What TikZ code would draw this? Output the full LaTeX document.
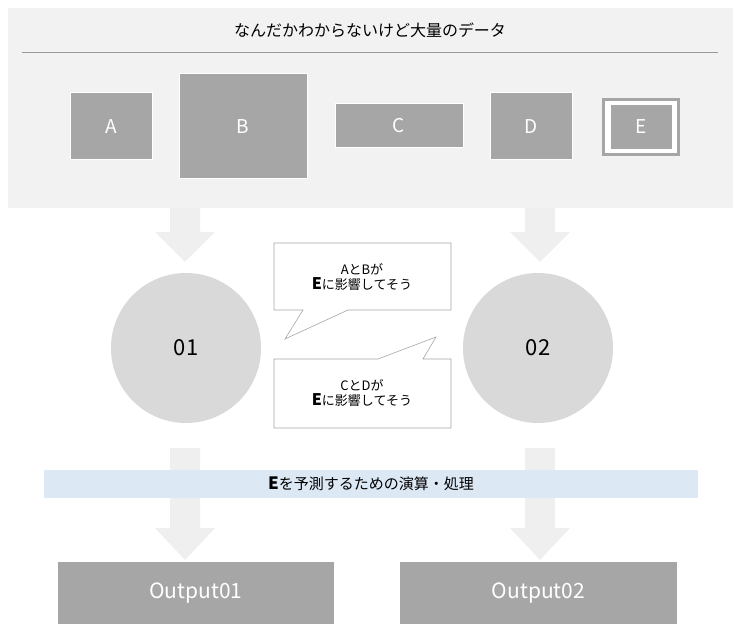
\documentclass[tikz,border=0pt]{standalone}
\usepackage{fontspec}
\setmainfont{Noto Sans CJK JP}
\definecolor{panel}{HTML}{F2F2F2}
\definecolor{boxgray}{HTML}{A6A6A6}
\definecolor{circgray}{HTML}{D9D9D9}
\definecolor{arrgray}{HTML}{EFEFEF}
\definecolor{band}{HTML}{DDE8F5}
\newcommand{\fs}[1]{\fontsize{#1}{#1}\selectfont}
% block arrow: x centre, top y, head start y, tip y
\newcommand{\blockarrow}[4]{\fill[arrgray] (#1-15,#2) -- (#1+15,#2) -- (#1+15,#3) -- (#1+30,#3) -- (#1,#4) -- (#1-30,#3) -- (#1-15,#3) -- cycle;}
\tikzset{
  item/.style={draw=white, line width=1pt, fill=boxgray, text=white, font=\fs{19}},
  stage/.style={circle, fill=circgray, minimum size=150pt, font=\fs{22}},
  output/.style={rectangle, fill=boxgray, text=white, font=\fs{21}, minimum height=62pt},
  callout/.style={draw=gray!70, fill=white, line width=0.6pt}
}
\begin{document}
\begin{tikzpicture}[x=1pt, y=-1pt]
\useasboundingbox (0,0) rectangle (740,639);

% data panel
\fill[panel] (8,8) rectangle (733,208);
\node (title) [font=\fs{16}] at (370,30) {なんだかわからないけど大量のデータ};
\draw[gray!80, line width=0.6pt] (22,52) -- (718,52);

\node (a) [item, minimum width=82pt, minimum height=67pt] at (111,126.5) {A};
\node (b) [item, minimum width=128pt, minimum height=105pt] at (243,126.5) {B};
\node (c) [item, minimum width=128pt, minimum height=44pt] at (399,126) {C};
\node (d) [item, minimum width=82pt, minimum height=67pt] at (531,126.5) {D};
\node (e) [draw=boxgray, line width=3pt, fill=white, minimum width=75pt, minimum height=55pt] at (641,127) {};
\node [item, draw=none, minimum width=61pt, minimum height=44pt] at (e) {E};

% arrows down
\blockarrow{185}{208}{232}{262}
\blockarrow{540}{208}{232}{262}
\blockarrow{185}{448}{528}{560}
\blockarrow{540}{448}{528}{560}

% stages
\node (s1) [stage] at (186,348) {01};
\node (s2) [stage] at (538,348) {02};

% callouts
\draw[callout] (274,243) -- (451,243) -- (451,310) -- (348,310) -- (285,339) -- (303,310) -- (274,310) -- cycle;
\node (t1) [align=center, font=\fs{13}] at (362,277) {AとBが\\[2pt]{\fs{16}\textbf{E}}に影響してそう};
\draw[callout] (274,359) -- (378,359) -- (436,337) -- (423,359) -- (451,359) -- (451,428) -- (274,428) -- cycle;
\node (t2) [align=center, font=\fs{13}] at (362,393) {CとDが\\[2pt]{\fs{16}\textbf{E}}に影響してそう};

% processing band
\node (proc) [fill=band, minimum width=654pt, minimum height=28pt, font=\fs{15}] at (371,484) {{\fs{17}\textbf{E}}を予測するための演算・処理};

% outputs
\node (o1) [output, minimum width=276pt] at (196,593) {Output01};
\node (o2) [output, minimum width=277pt] at (538.5,593) {Output02};
\end{tikzpicture}
\end{document}
